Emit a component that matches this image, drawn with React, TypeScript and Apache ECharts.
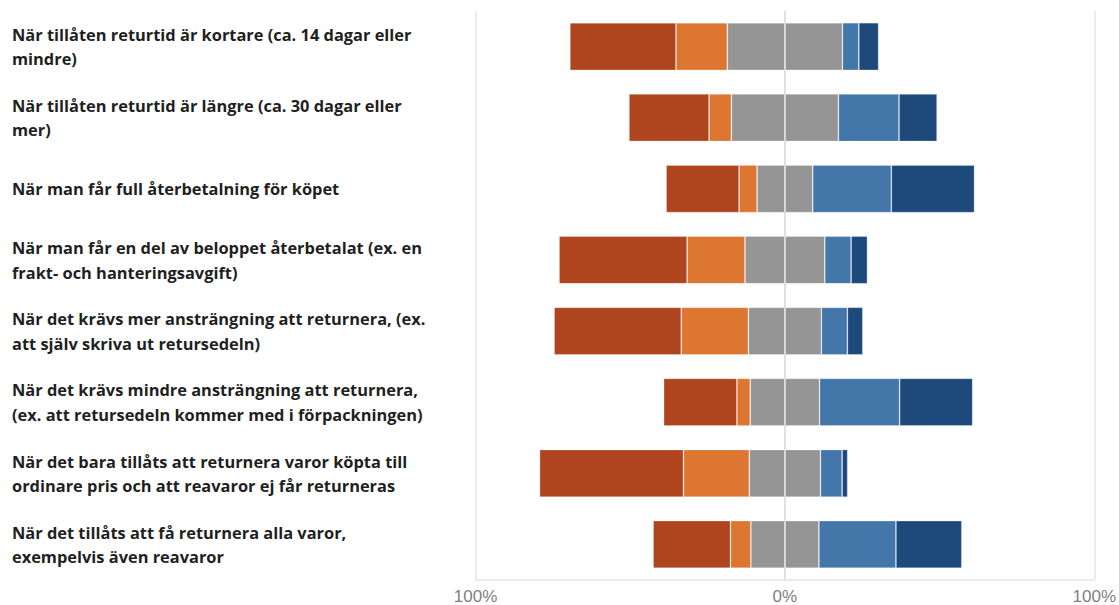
import React, { useEffect, useRef } from "react";
import * as echarts from "echarts";

const categories = [
  "När tillåten returtid är kortare (ca. 14 dagar eller\nmindre)",
  "När tillåten returtid är längre (ca. 30 dagar eller\nmer)",
  "När man får full återbetalning för köpet",
  "När man får en del av beloppet återbetalat (ex. en\nfrakt- och hanteringsavgift)",
  "När det krävs mer ansträngning att returnera, (ex.\natt själv skriva ut retursedeln)",
  "När det krävs mindre ansträngning att returnera,\n(ex. att retursedeln kommer med i förpackningen)",
  "När det bara tillåts att returnera varor köpta till\nordinare pris och att reavaror ej får returneras",
  "När det tillåts att få returnera alla varor,\nexempelvis även reavaror",
];

// percentages per answer category
const muchLess = [34.3, 25.9, 23.6, 41.4, 41.1, 23.7, 46.5, 25.0];
const less = [16.6, 7.2, 5.8, 18.7, 21.7, 4.3, 21.3, 6.6];
const neutral = [37.2, 34.6, 18.0, 25.8, 23.6, 22.4, 23.0, 22.0];
const more = [5.3, 19.6, 25.4, 8.5, 8.4, 25.9, 7.0, 24.9];
const muchMore = [6.4, 12.3, 26.9, 5.3, 5.0, 23.6, 1.8, 21.3];

const tickValues = [-100, 0, 100];

const COLORS = {
  muchLess: "#ae451e",
  less: "#dc7630",
  neutral: "#959595",
  more: "#4377aa",
  muchMore: "#1e4a7b",
};

export default function App() {
  const ref = useRef<HTMLDivElement>(null);
  useEffect(() => {
    if (!ref.current) return;
    const chart = echarts.init(ref.current, null, { renderer: "svg" });
    const itemStyle = (c: string) => ({
      color: c,
      borderColor: "rgba(255,255,255,0.35)",
      borderWidth: 0.8,
    });
    const mk = (name: string, data: number[], color: string, sign: number) => ({
      name,
      type: "bar",
      stack: "total",
      barCategoryGap: "33%",
      data: data.map((v) => +(sign * v).toFixed(2)),
      itemStyle: itemStyle(color),
      emphasis: { disabled: true },
    });
    chart.setOption({
      animation: false,
      grid: { left: 475.5, right: 24, top: 11, bottom: 22.5, containLabel: false },
      xAxis: {
        type: "value",
        min: -100,
        max: 100,
        interval: 100,
        axisLine: { show: true, lineStyle: { color: "#e3e3e3", width: 1.5 } },
        axisTick: { show: false },
        splitLine: { show: true, lineStyle: { color: "#e6e6e6", width: 1.5 } },
        axisLabel: {
          formatter: (v: number) => (tickValues.includes(v) ? Math.abs(v) + "%" : ""),
          color: "#808080",
          fontSize: 17,
          fontFamily: "Liberation Sans, Arial, sans-serif",
          margin: 8,
        },
      },
      yAxis: {
        type: "category",
        inverse: true,
        data: categories,
        axisLine: { show: false },
        axisTick: { show: false },
        axisLabel: {
          align: "left",
          margin: 463.5,
          color: "#1f1f1f",
          fontSize: 16.4,
          fontWeight: "bold",
          fontFamily: "Open Sans, sans-serif",
          lineHeight: 24.5,
        },
      },
      series: [
        {
          ...mk("neutralL", neutral.map((v) => v / 2), COLORS.neutral, -1),
          markLine: {
            silent: true,
            symbol: "none",
            label: { show: false },
            lineStyle: { color: "#dddddd", width: 1.5, type: "solid" },
            data: [{ xAxis: 0 }],
            z: 10,
          },
        },
        mk("neutralR", neutral.map((v) => v / 2), COLORS.neutral, 1),
        mk("less", less, COLORS.less, -1),
        mk("more", more, COLORS.more, 1),
        mk("muchLess", muchLess, COLORS.muchLess, -1),
        mk("muchMore", muchMore, COLORS.muchMore, 1),
      ],
    });
    return () => chart.dispose();
  }, []);
  return <div ref={ref} style={{ width: 1119, height: 605, position: "absolute", left: 0, top: 0 }} />;
}
